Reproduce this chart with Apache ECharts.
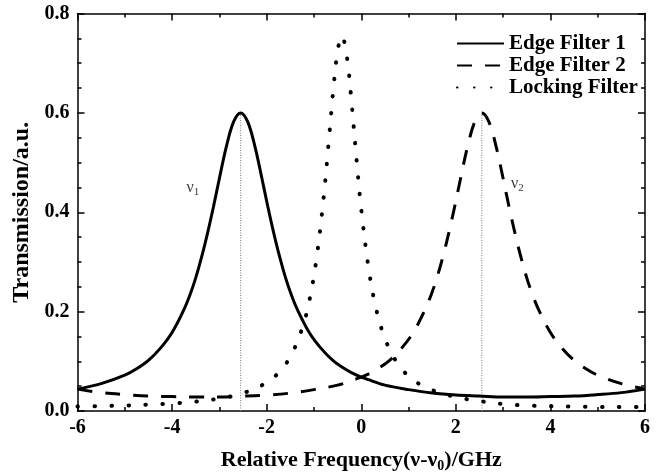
<!DOCTYPE html>
<html>
<head>
<meta charset="utf-8">
<script src="https://cdn.jsdelivr.net/npm/echarts@6/dist/echarts.min.js"></script>
<style>
html,body{margin:0;padding:0;background:#fff;}
#chart{width:656px;height:476px;}
</style>
</head>
<body>
<div id="chart"></div>
<script>
// ---- data ----
var seriesNames = ['Edge Filter 1', 'Edge Filter 2', 'Locking Filter'];

var edge1X = [-6, -5.5, -5, -4.75, -4.5, -4.25, -4, -3.75, -3.625, -3.5, -3.375, -3.25, -3.125, -3, -2.85, -2.7, -2.55,
  -2.4, -2.25, -2.1, -1.975, -1.85, -1.725, -1.6, -1.475, -1.35, -1.1, -0.85, -0.6, -0.35, -0.1, 0.15, 0.5, 1, 1.5, 2, 2.5, 3, 3.5, 4, 4.5, 5, 5.5, 6];
var edge1Y = [0.044, 0.055, 0.072, 0.085, 0.102, 0.126, 0.158, 0.204, 0.233, 0.268, 0.310, 0.358, 0.411, 0.468, 0.533, 0.582, 0.600,
  0.582, 0.533, 0.468, 0.411, 0.358, 0.310, 0.268, 0.233, 0.204, 0.158, 0.126, 0.102, 0.085, 0.072, 0.063, 0.052, 0.043, 0.036, 0.032, 0.030, 0.028, 0.028, 0.029, 0.030, 0.033, 0.037, 0.044];

var edge2X = [-6, -5.5, -5, -4.5, -4, -3.5, -3, -2.5, -2, -1.5, -1, -0.5, -0.15, 0.1, 0.35, 0.6, 0.85, 1.1, 1.35, 1.475, 1.6, 1.725, 1.85, 1.975, 2.1, 2.25, 2.4, 2.55,
  2.7, 2.85, 3, 3.125, 3.25, 3.375, 3.5, 3.625, 3.75, 4, 4.25, 4.5, 4.75, 5, 5.5, 6];
var edge2Y = [0.044, 0.037, 0.033, 0.030, 0.029, 0.028, 0.028, 0.030, 0.032, 0.036, 0.043, 0.052, 0.063, 0.072, 0.085, 0.102, 0.126, 0.158, 0.204, 0.233, 0.268, 0.310, 0.358, 0.411, 0.468, 0.533, 0.582, 0.600,
  0.582, 0.533, 0.468, 0.411, 0.358, 0.310, 0.268, 0.233, 0.204, 0.158, 0.126, 0.102, 0.085, 0.072, 0.055, 0.044];

var lockX = [-6, -5.5, -5, -4.5, -4, -3.5, -3, -2.5, -2, -1.75, -1.5, -1.25, -1.1, -0.95, -0.8, -0.7, -0.6, -0.5, -0.41,
  -0.3, -0.2, -0.1, 0, 0.15, 0.3, 0.5, 0.75, 1, 1.25, 1.5, 2, 2.5, 3, 3.5, 4, 4.5, 5, 5.5, 6];
var lockY = [0.009, 0.010, 0.011, 0.013, 0.015, 0.019, 0.025, 0.036, 0.057, 0.077, 0.109, 0.166, 0.221, 0.304, 0.425, 0.528, 0.637, 0.725, 0.755,
  0.711, 0.616, 0.506, 0.406, 0.291, 0.212, 0.146, 0.098, 0.070, 0.053, 0.042, 0.028, 0.020, 0.014, 0.011, 0.0095, 0.0088, 0.0083, 0.008, 0.0078];

var peakMarks = [[-2.55, 0.6], [2.55, 0.6]];
var peakLabels = [{pos: [-3.56, 0.449], sub: '1'}, {pos: [3.30, 0.457], sub: '2'}];

var xTicks = {min: -6, max: 6, interval: 2};
var yTicks = {min: 0, max: 0.8, interval: 0.2};

// ---- build chart ----
var FONT = '"Liberation Serif", "Times New Roman", serif';
function pairs(xs, ys) { return xs.map(function (x, i) { return [x, ys[i]]; }); }

var chart = echarts.init(document.getElementById('chart'), null, {renderer: 'canvas'});

function makeX(pos, showLabel) {
  return {
    type: 'value', position: pos, min: xTicks.min, max: xTicks.max, interval: xTicks.interval,
    axisLine: {show: true, onZero: false, lineStyle: {color: '#000', width: 1.5}},
    axisTick: {show: true, inside: true, length: 7, lineStyle: {color: '#000', width: 1.5}},
    minorTick: {show: true, splitNumber: 2, length: 4, lineStyle: {color: '#000', width: 1.5}},
    splitLine: {show: false}, minorSplitLine: {show: false},
    axisLabel: {show: showLabel, color: '#000', fontSize: 20, fontWeight: 'bold', fontFamily: FONT, margin: 7},
    name: showLabel ? '{a|Relative Frequency(ν-ν}{s|0}{a|)/GHz}' : '',
    nameLocation: 'middle', nameGap: 36,
    nameTextStyle: {
      rich: {
        a: {fontSize: 22, fontWeight: 'bold', fontFamily: FONT, color: '#000'},
        s: {fontSize: 14, fontWeight: 'bold', fontFamily: FONT, color: '#000', padding: [12, 0, 0, 0]}
      }
    }
  };
}
function makeY(pos, showLabel) {
  return {
    type: 'value', position: pos, min: yTicks.min, max: yTicks.max, interval: yTicks.interval,
    axisLine: {show: true, onZero: false, lineStyle: {color: '#000', width: 1.5}},
    axisTick: {show: true, inside: true, length: 7, lineStyle: {color: '#000', width: 1.5}},
    minorTick: {show: true, splitNumber: 4, length: 4, lineStyle: {color: '#000', width: 1.5}},
    splitLine: {show: false}, minorSplitLine: {show: false},
    axisLabel: {show: showLabel, color: '#000', fontSize: 20, fontWeight: 'bold', fontFamily: FONT, margin: 8,
      formatter: function (v) { return v.toFixed(1); }},
    name: showLabel ? 'Transmission/a.u.' : '',
    nameLocation: 'middle', nameGap: 43,
    nameTextStyle: {fontSize: 24, fontWeight: 'bold', fontFamily: FONT, color: '#000'}
  };
}

var series = [
  {name: seriesNames[0], type: 'line', data: pairs(edge1X, edge1Y), smooth: 0.35, symbol: 'none',
    itemStyle: {color: '#000'}, lineStyle: {color: '#000', width: 3, type: 'solid'}, z: 3},
  {name: seriesNames[1], type: 'line', data: pairs(edge2X, edge2Y), smooth: 0.35, symbol: 'none',
    itemStyle: {color: '#000'}, lineStyle: {color: '#000', width: 3, type: [15, 13], cap: 'butt'}, z: 3},
  {name: seriesNames[2], type: 'line', data: pairs(lockX, lockY), smooth: 0.35, symbol: 'none',
    itemStyle: {color: '#000'}, lineStyle: {color: '#000', width: 4, type: [0.5, 16.5], cap: 'round'}, z: 3}
];
peakMarks.forEach(function (p) {
  series.push({type: 'line', data: [[p[0], 0], [p[0], p[1]]], symbol: 'none', silent: true, z: 2,
    lineStyle: {color: '#777', width: 1, type: [1, 1.5]}});
});
peakLabels.forEach(function (l) {
  series.push({type: 'scatter', data: [l.pos], symbolSize: 0, silent: true,
    label: {show: true, position: 'inside', formatter: '{n|ν}{s|' + l.sub + '}',
      rich: {
        n: {fontSize: 16, fontFamily: FONT, color: '#000'},
        s: {fontSize: 11, fontFamily: FONT, color: '#000', padding: [9, 0, 0, 0]}
      }}});
});

chart.setOption({
  animation: false,
  backgroundColor: '#fff',
  grid: {left: 77.5, right: 11, top: 13.5, bottom: 65, containLabel: false, outerBoundsMode: 'none'},
  legend: {
    data: seriesNames, orient: 'vertical', left: 456, top: 33, padding: 0,
    itemWidth: 47, itemHeight: 14, itemGap: 1,
    itemStyle: {opacity: 0},
    textStyle: {fontSize: 21, fontWeight: 'bold', fontFamily: FONT, color: '#000'}
  },
  xAxis: [makeX('bottom', true), makeX('top', false)],
  yAxis: [makeY('left', true), makeY('right', false)],
  series: series
});
</script>
</body>
</html>
